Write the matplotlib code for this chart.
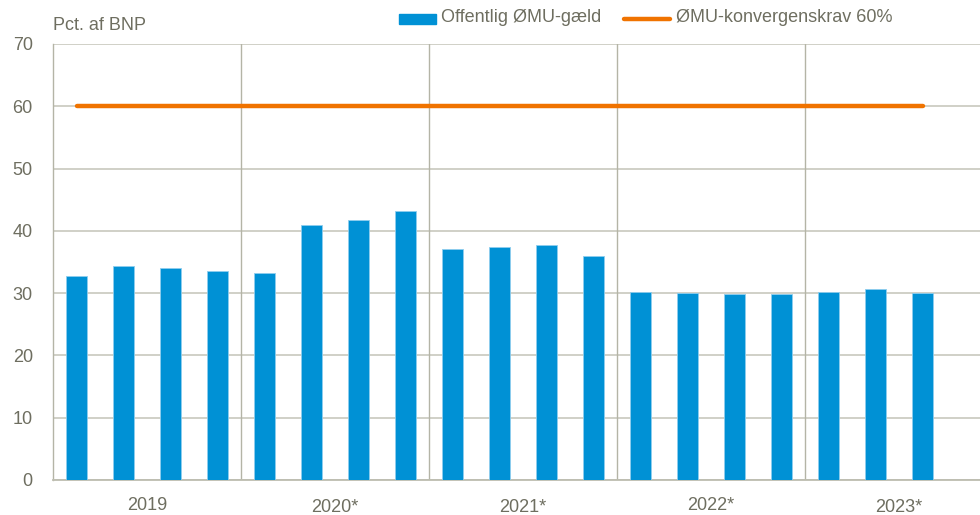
import matplotlib
matplotlib.use("Agg")
import matplotlib.pyplot as plt
from matplotlib import font_manager
from matplotlib.lines import Line2D
from matplotlib.patches import Rectangle

# ---- data ----
years = ["2019", "2020*", "2021*", "2022*", "2023*"]
quarters_per_year = [4, 4, 4, 4, 4]
debt = [32.8, 34.3, 34.1, 33.5,
        33.3, 41.0, 41.8, 43.2,
        37.1, 37.4, 37.7, 36.0,
        30.2, 30.1, 29.9, 29.9,
        30.2, 30.7, 30.0]
conv_req = [60.0] * len(debt)
y_ticks = [0, 10, 20, 30, 40, 50, 60, 70]
y_label = "Pct. af BNP"
legend_bar = "Offentlig ØMU-gæld"
legend_line = "ØMU-konvergenskrav 60%"

names = {f.name for f in font_manager.fontManager.ttflist}
fam = "Liberation Sans Narrow" if "Liberation Sans Narrow" in names else "Liberation Sans"
plt.rcParams["font.family"] = [fam, "DejaVu Sans"]
FS = 14 if fam == "Liberation Sans Narrow" else 13

BLUE = "#0091D5"
ORANGE = "#F07300"
GRID = "#CDCDC3"
SEP = "#B4B4A6"
TXT = "#6E6E60"

W, H = 980, 515
fig = plt.figure(figsize=(W / 100, H / 100), dpi=100)
ax = fig.add_axes([53 / W, 35 / H, 940 / W, 436 / H])

n_slots = sum(quarters_per_year)
x = list(range(len(debt)))
ax.bar(x, debt, width=0.43, color=BLUE, edgecolor="#8FCDEE", linewidth=0.6, zorder=3)
ax.plot(x, conv_req, color=ORANGE, lw=3.2, solid_capstyle="round", zorder=4)

ax.set_xlim(-0.5, n_slots - 0.5)
ax.set_ylim(0, 70)
ax.set_yticks(y_ticks)
ax.yaxis.grid(True, color=GRID, lw=1.3, zorder=0)
ax.set_axisbelow(True)
ax.set_xticks([])
ax.tick_params(axis="y", length=0, pad=14.5, labelsize=FS, labelcolor=TXT)

for s in ["top", "right"]:
    ax.spines[s].set_visible(False)
ax.spines["left"].set_color(SEP)
ax.spines["left"].set_linewidth(1.0)
ax.spines["bottom"].set_color("#BDBDB0")
ax.spines["bottom"].set_linewidth(1.3)

# group separators and year labels
start = 0
offs = [0, 3, 2, 0, 2]
for i, (yr, nq) in enumerate(zip(years, quarters_per_year)):
    if start > 0:
        ax.axvline(start - 0.5, color=SEP, lw=1.0, zorder=1)
    center = start + (nq - 1) / 2
    ax.annotate(yr, xy=(center, 0), xycoords=("data", "axes fraction"),
                xytext=(0, -25 - offs[i]), textcoords="offset pixels",
                ha="center", va="center", fontsize=FS, color=TXT)
    start += nq

fig.text(53 / W, 1 - 25 / H, y_label, ha="left", va="center", fontsize=FS, color=TXT)

# legend
fig.patches.append(Rectangle((399 / W, 1 - 24 / H), 37 / W, 10 / H,
                             transform=fig.transFigure, color=BLUE, figure=fig))
fig.text(441 / W, 1 - 18 / H, legend_bar, ha="left", va="center", fontsize=FS, color=TXT)
fig.lines.append(Line2D([624 / W, 670 / W], [1 - 19 / H, 1 - 19 / H], transform=fig.transFigure,
                        color=ORANGE, lw=3.2, solid_capstyle="round", figure=fig))
fig.text(676 / W, 1 - 18 / H, legend_line, ha="left", va="center", fontsize=FS, color=TXT)

fig.savefig("out.png", dpi=100)
